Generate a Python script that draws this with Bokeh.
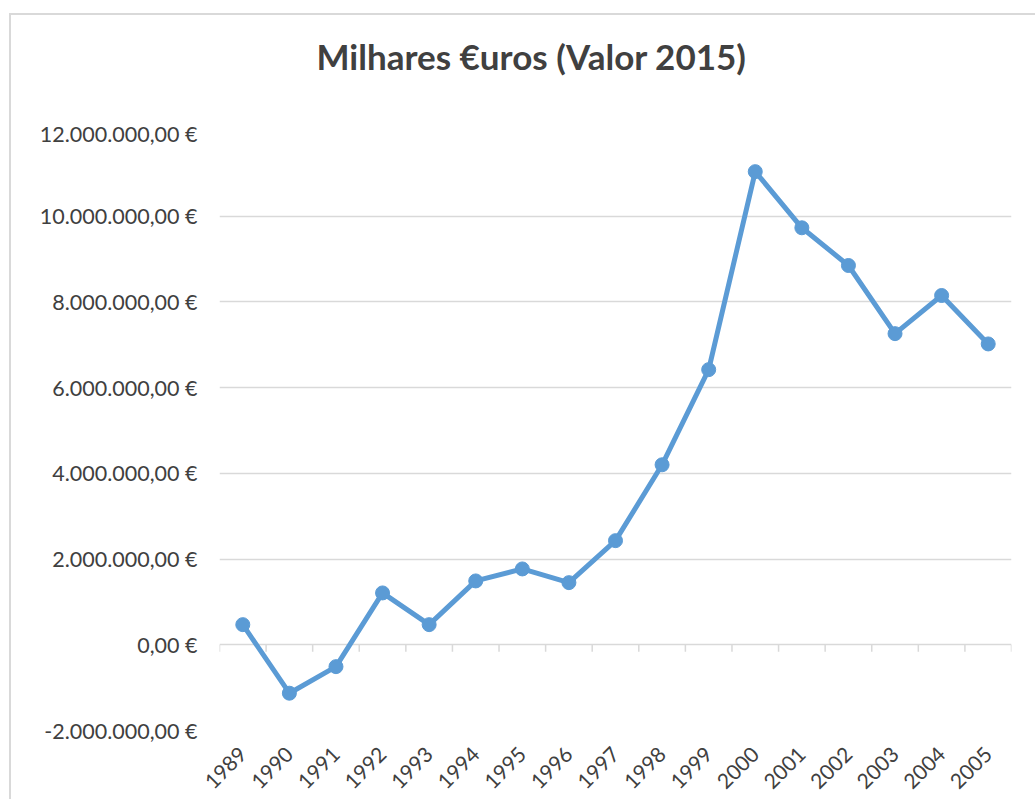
from math import pi
from bokeh.plotting import figure
from bokeh.models import (ColumnDataSource, FactorRange, Range1d, FixedTicker,
                          CustomJSTickFormatter, Spacer)
from bokeh.layouts import column, row
from bokeh.transform import dodge
from bokeh.embed import file_html
from bokeh.resources import INLINE

years = ["1989", "1990", "1991", "1992", "1993", "1994", "1995", "1996", "1997",
         "1998", "1999", "2000", "2001", "2002", "2003", "2004", "2005"]
values = [470000, -1130000, -510000, 1210000, 470000, 1490000, 1770000, 1450000,
          2430000, 4200000, 6420000, 11040000, 9730000, 8850000, 7260000, 8150000, 7020000]
y_ticks = [-2000000, 0, 2000000, 4000000, 6000000, 8000000, 10000000, 12000000]
title_text = "Milhares €uros (Valor 2015)"

src = ColumnDataSource(dict(years=years, values=values))
bsrc = ColumnDataSource(dict(years=years, zero=[0] * len(years),
                             low=[-160000] * len(years)))
first = ColumnDataSource(dict(years=years[:1], zero=[0], low=[-160000]))

# ---- title strip (its own small figure so the title can sit high) ----
t = figure(width=1026, height=107, x_range=Range1d(0, 1), y_range=Range1d(0, 1),
           output_backend="svg", toolbar_location=None,
           x_axis_location=None, y_axis_location=None,
           min_border_left=208, min_border_right=26, min_border_top=0,
           min_border_bottom=0)
t.styles = {"border-left": "2px solid #d9d9d9", "border-top": "2px solid #d9d9d9"}
t.grid.visible = False
t.outline_line_color = None
t.title.text = title_text
t.title.align = "left"
t.title.offset = 97
t.title.standoff = 34
t.title.text_font = "Lato"
t.title.text_font_size = "35px"
t.title.text_font_style = "bold"
t.title.text_color = "#404040"
t.scatter(x=[0.5], y=[0.5], size=0, alpha=0)

# ---- main chart ----
p = figure(width=1026, height=679, x_range=FactorRange(*years),
           y_range=Range1d(y_ticks[0], y_ticks[-1]),
           output_backend="svg", toolbar_location=None,
           min_border_left=208, min_border_right=26, min_border_top=10,
           min_border_bottom=69)
p.styles = {"border-left": "2px solid #d9d9d9"}

p.outline_line_color = None
p.background_fill_color = "white"
p.border_fill_color = "white"

# y axis
p.yaxis.ticker = FixedTicker(ticks=y_ticks)
p.yaxis.formatter = CustomJSTickFormatter(code="""
    const neg = tick < 0;
    const parts = Math.abs(tick).toFixed(2).split('.');
    const ip = parts[0].replace(/\\B(?=(\\d{3})+(?!\\d))/g, '.');
    return (neg ? '-' : '') + ip + ',' + parts[1] + ' €';
""")
p.yaxis.axis_line_color = None
p.yaxis.major_tick_line_color = None
p.yaxis.minor_tick_line_color = None
p.yaxis.major_label_text_font = "Lato"
p.yaxis.major_label_text_font_size = "21.5px"
p.yaxis.major_label_text_color = "#404040"
p.yaxis.major_label_standoff = 16

p.ygrid.ticker = FixedTicker(ticks=y_ticks)
p.ygrid.grid_line_color = "#d9d9d9"
p.ygrid.grid_line_width = 1.5
p.xgrid.grid_line_color = None

# x axis
p.xaxis.axis_line_color = None
p.xaxis.major_tick_line_color = None
p.xaxis.major_label_orientation = pi / 4
p.xaxis.major_label_text_font = "Lato"
p.xaxis.major_label_text_font_size = "21px"
p.xaxis.major_label_text_color = "#404040"
p.xaxis.major_label_standoff = 14

# category boundary tick marks on the zero axis
p.segment(x0=dodge("years", 0.5, range=p.x_range), y0="zero",
          x1=dodge("years", 0.5, range=p.x_range), y1="low",
          source=bsrc, line_color="#d9d9d9", line_width=1.5)
p.segment(x0=dodge("years", -0.5, range=p.x_range), y0="zero",
          x1=dodge("years", -0.5, range=p.x_range), y1="low",
          source=first, line_color="#d9d9d9", line_width=1.5)

p.line("years", "values", source=src, line_color="#5b9bd5", line_width=5,
       line_join="round")
p.scatter("years", "values", source=src, size=14, fill_color="#5b9bd5",
          line_color="#5b9bd5")

layout = column(Spacer(height=13), row(Spacer(width=9), column(t, p, spacing=0)),
                spacing=0)

open("out.html", "w").write(file_html(layout, INLINE))
